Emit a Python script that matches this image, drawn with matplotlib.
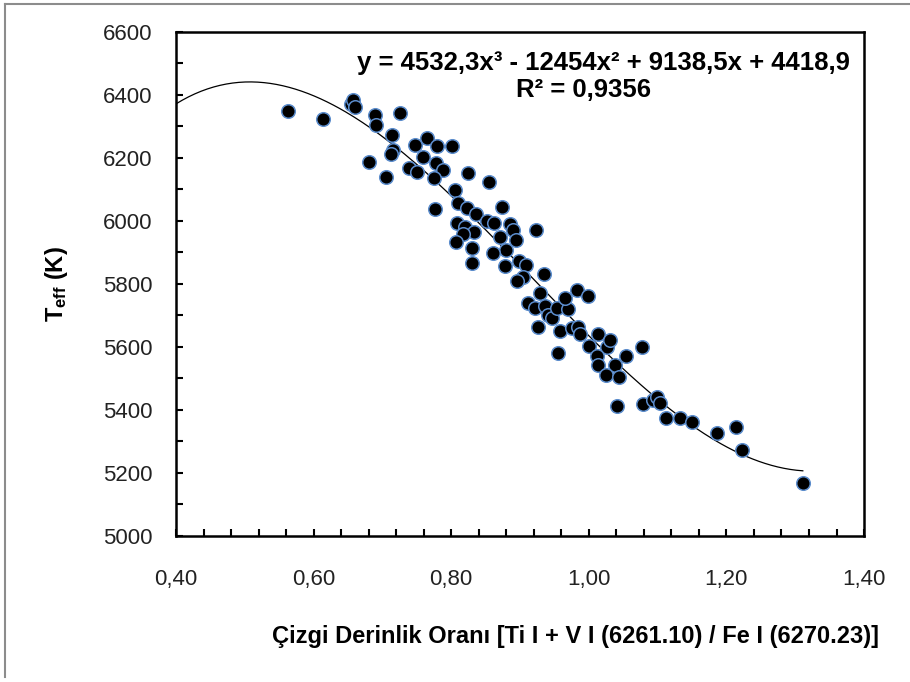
import numpy as np
import matplotlib
matplotlib.use("Agg")
import matplotlib.pyplot as plt
from matplotlib.lines import Line2D
from matplotlib.ticker import MultipleLocator, FuncFormatter

# line depth ratio vs effective temperature
ratio = [0.563, 0.613, 0.655, 0.657, 0.660, 0.689, 0.690, 0.726, 0.714, 0.715,
         0.713, 0.681, 0.705, 0.747, 0.765, 0.759, 0.739, 0.750, 0.779, 0.801,
         0.778, 0.788, 0.775, 0.805, 0.824, 0.855, 0.776, 0.810, 0.823, 0.836,
         0.874, 0.852, 0.862, 0.885, 0.890, 0.923, 0.808, 0.820, 0.833, 0.817,
         0.807, 0.871, 0.880, 0.894, 0.830, 0.861, 0.899, 0.909, 0.830, 0.878,
         0.904, 0.896, 0.935, 0.929, 0.912, 0.922, 0.936, 0.941, 0.926, 0.946,
         0.954, 0.970, 0.965, 0.983, 0.999, 0.958, 0.976, 0.984, 0.987, 0.955,
         1.013, 1.000, 1.026, 1.031, 1.012, 1.013, 1.038, 1.054, 1.077, 1.025,
         1.044, 1.041, 1.079, 1.093, 1.099, 1.104, 1.112, 1.133, 1.150, 1.186,
         1.214, 1.223, 1.311]
teff = [6349, 6324, 6370, 6385, 6362, 6337, 6305, 6343, 6273, 6225,
        6213, 6187, 6140, 6241, 6264, 6203, 6168, 6156, 6238, 6238,
        6184, 6162, 6137, 6098, 6152, 6125, 6038, 6057, 6041, 6022,
        6045, 6000, 5994, 5990, 5972, 5971, 5994, 5981, 5965, 5959,
        5934, 5949, 5908, 5940, 5914, 5898, 5873, 5860, 5867, 5857,
        5822, 5810, 5832, 5771, 5740, 5724, 5730, 5702, 5664, 5692,
        5724, 5721, 5755, 5781, 5762, 5651, 5660, 5664, 5641, 5581,
        5641, 5603, 5600, 5622, 5571, 5543, 5543, 5571, 5600, 5511,
        5505, 5413, 5419, 5432, 5441, 5422, 5375, 5375, 5362, 5327,
        5346, 5273, 5168]

# cubic trendline coefficients as printed on the chart
poly_coef = [4532.3, -12454.0, 9138.5, 4418.9]
fit_range = (0.40, 1.311)

eq_text = "y = 4532,3x³ - 12454x² + 9138,5x + 4418,9"
r2_text = "R² = 0,9356"
x_label = "Çizgi Derinlik Oranı [Ti I + V I (6261.10) / Fe I (6270.23)]"
y_label = r"T$_{\mathbf{eff}}$ (K)"

plt.rcParams['font.family'] = ['Liberation Sans', 'DejaVu Sans']
plt.rcParams['mathtext.fontset'] = 'custom'
plt.rcParams['mathtext.rm'] = 'Liberation Sans:bold'
plt.rcParams['mathtext.bf'] = 'Liberation Sans:bold'
plt.rcParams['mathtext.it'] = 'Liberation Sans:bold'

fig = plt.figure(figsize=(9.10, 6.82), dpi=100)
ax = fig.add_axes([0.1934, 0.2141, 0.7561, 0.7390])

xs = np.linspace(fit_range[0], fit_range[1], 300)
ax.plot(xs, np.polyval(poly_coef, xs), color='black', lw=0.9, zorder=2)
ax.scatter(ratio, teff, s=95, c='black', edgecolors='#5b8ccc', linewidths=1.1, zorder=3)

ax.set_xlim(0.40, 1.40)
ax.set_ylim(5000, 6600)
ax.xaxis.set_major_locator(MultipleLocator(0.2))
ax.xaxis.set_minor_locator(MultipleLocator(0.04))
ax.yaxis.set_major_locator(MultipleLocator(200))
ax.yaxis.set_minor_locator(MultipleLocator(100))
ax.xaxis.set_major_formatter(FuncFormatter(lambda v, p: f"{v:.2f}".replace('.', ',')))
ax.yaxis.set_major_formatter(FuncFormatter(lambda v, p: f"{v:.0f}"))

ax.tick_params(axis='both', which='both', direction='in', length=5, width=1.5,
               labelsize=16, labelcolor='#222222')
ax.tick_params(axis='y', which='major', pad=17)
ax.tick_params(axis='x', which='major', pad=24)
for sp in ax.spines.values():
    sp.set_linewidth(1.8)

ax.set_xlabel(x_label, fontsize=17, fontweight='bold')
ax.xaxis.set_label_coords(0.58, -0.177)
ax.set_ylabel(y_label, fontsize=17, fontweight='bold')
ax.yaxis.set_label_coords(-0.154, 0.50)

fig.text(0.934, 0.908, eq_text, ha='right', va='center', fontsize=18.5, fontweight='bold')
fig.text(0.641, 0.868, r2_text, ha='center', va='center', fontsize=18.5, fontweight='bold')

# grey chart frame (left and top edges only visible)
fig.add_artist(Line2D([0.006, 0.006], [0.008, 0.994], transform=fig.transFigure,
                      color='#8c8c8c', lw=1.5))
fig.add_artist(Line2D([0.006, 1.0], [0.994, 0.994], transform=fig.transFigure,
                      color='#8c8c8c', lw=1.5))

fig.savefig('out.png', dpi=100)
